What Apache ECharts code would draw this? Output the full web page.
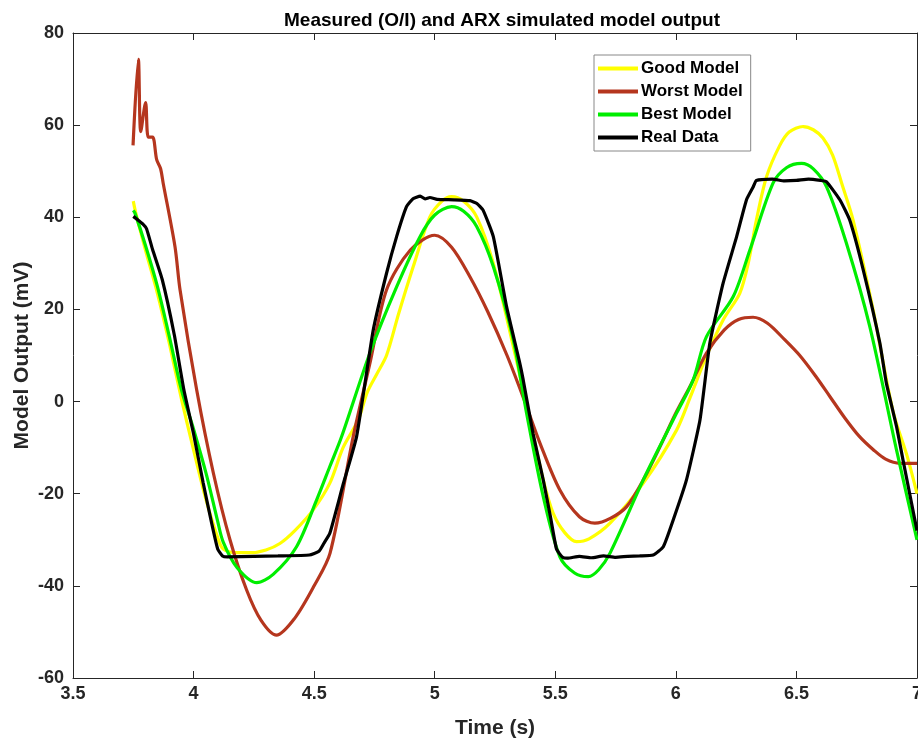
<!DOCTYPE html>
<html>
<head>
<meta charset="utf-8">
<script src="https://cdn.jsdelivr.net/npm/echarts@6/dist/echarts.min.js"></script>
<style>
  html, body { margin: 0; padding: 0; background: #fff; }
  #chart { width: 918px; height: 743px; }
</style>
</head>
<body>
<div id="chart"></div>
<script>
// values
var goodT = [3.75, 3.76, 3.80, 3.85, 3.90, 3.95, 4.00, 4.05, 4.10, 4.123, 4.18, 4.234, 4.30, 4.358, 4.42, 4.496, 4.565, 4.62, 4.683, 4.72, 4.76, 4.80, 4.85, 4.911, 4.98, 5.03, 5.07, 5.12, 5.174, 5.243, 5.326, 5.395, 5.45, 5.491, 5.54, 5.588, 5.64, 5.727, 5.865, 6.003, 6.06, 6.12, 6.196, 6.265, 6.30, 6.334, 6.376, 6.43, 6.47, 6.528, 6.57, 6.61, 6.65, 6.69, 6.735, 6.818, 6.90, 6.96, 7.0];
var goodV = [43.5, 41, 33, 23.5, 12.5, 0.5, -10.5, -21, -29.5, -32, -32.8, -32.8, -32.2, -30.8, -28, -23.5, -17.7, -10, -4, 2, 6, 10, 19, 29.3, 40.1, 43.5, 44.5, 43.5, 40.1, 30, 11.9, -4, -17, -24.2, -28.5, -30.4, -29.8, -26.4, -17.7, -6.2, 1, 9, 17.7, 23.5, 30, 39.4, 48.8, 55.5, 58.5, 59.7, 59, 57.2, 53.5, 47, 39.4, 19.9, -2, -12, -20];

var worstT = [3.749, 3.771, 3.781, 3.801, 3.812, 3.830, 3.847, 3.863, 3.874, 3.923, 3.944, 4.013, 4.082, 4.151, 4.22, 4.28, 4.344, 4.42, 4.50, 4.566, 4.662, 4.73, 4.80, 4.899, 5.0, 5.07, 5.146, 5.22, 5.30, 5.37, 5.44, 5.519, 5.60, 5.664, 5.73, 5.796, 5.87, 5.934, 6.0, 6.058, 6.127, 6.20, 6.26, 6.32, 6.38, 6.45, 6.514, 6.58, 6.64, 6.70, 6.76, 6.82, 6.87, 6.93, 7.0];
var worstV = [55.6, 74.3, 58.6, 64.9, 57.4, 57.4, 52.5, 50.6, 47.4, 33.6, 24.2, 2.5, -15.5, -30, -40.9, -47.5, -50.7, -47, -40, -32.9, -7.6, 8, 24.2, 32.9, 36.1, 33.5, 27.1, 19.5, 10, 0.5, -9.5, -19.2, -25, -26.4, -25.3, -22.8, -16.5, -9.8, -2.5, 3.2, 10.5, 15.5, 17.8, 18.3, 17, 13.5, 10, 5.5, 1, -3.5, -7.5, -10.5, -12.5, -13.4, -13.4];

var bestT = [3.75, 3.757, 3.80, 3.85, 3.90, 3.95, 4.00, 4.054, 4.10, 4.123, 4.18, 4.262, 4.33, 4.427, 4.51, 4.565, 4.614, 4.731, 4.842, 4.939, 5.00, 5.07, 5.12, 5.174, 5.243, 5.326, 5.381, 5.45, 5.519, 5.58, 5.637, 5.68, 5.727, 5.865, 5.975, 6.003, 6.072, 6.127, 6.238, 6.307, 6.403, 6.46, 6.521, 6.57, 6.625, 6.707, 6.804, 6.915, 7.0];
var bestV = [41.5, 40.9, 34, 25, 14, 2.5, -6, -16, -26, -30.5, -36, -39.3, -37.5, -31.5, -21.4, -14.1, -7.6, 10.5, 24.9, 35.8, 40.5, 42.3, 41.3, 38, 29.3, 13.4, -2.5, -20.6, -33.7, -37.2, -38, -36.5, -32.9, -17, -5.4, -2.5, 4.7, 14.1, 22.8, 32.9, 47.4, 50.8, 51.7, 50.5, 46.6, 34.4, 16.3, -10.5, -30];

var realT = [3.75, 3.76, 3.79, 3.805, 3.83, 3.87, 3.92, 3.96, 4.00, 4.04, 4.075, 4.10, 4.12, 4.14, 4.25, 4.35, 4.48, 4.52, 4.54, 4.565, 4.62, 4.676, 4.745, 4.80, 4.842, 4.883, 4.91, 4.94, 4.96, 4.98, 5.01, 5.08, 5.146, 5.175, 5.20, 5.243, 5.298, 5.353, 5.367, 5.408, 5.45, 5.48, 5.505, 5.53, 5.55, 5.60, 5.65, 5.70, 5.75, 5.80, 5.85, 5.906, 5.948, 5.989, 6.044, 6.10, 6.141, 6.196, 6.252, 6.293, 6.32, 6.334, 6.40, 6.45, 6.50, 6.55, 6.60, 6.625, 6.68, 6.721, 6.777, 6.846, 6.873, 6.915, 6.942, 7.0];
var realV = [40.2, 39.8, 38.5, 37.5, 33, 26.5, 14.5, 2.5, -7, -17.7, -26.4, -32, -33.5, -33.7, -33.6, -33.5, -33.3, -32.5, -30.8, -28.6, -18, -7.6, 15.5, 27.8, 35.8, 42.3, 44.0, 44.6, 44.0, 44.3, 43.9, 43.8, 43.6, 43, 41.6, 35.8, 20.6, 8.3, 4.7, -7, -17, -25, -32, -33.8, -34.0, -33.6, -33.9, -33.5, -33.8, -33.6, -33.5, -33.3, -31.5, -25.7, -17, -4.0, 12.7, 25.7, 35.8, 43.8, 46.5, 48, 48.3, 47.9, 48.0, 48.3, 48.0, 47.7, 43.8, 39.4, 28.6, 12.7, 4.0, -5.4, -12.7, -28];

var xTicks = [3.5, 4, 4.5, 5, 5.5, 6, 6.5, 7];
var yTicks = [-60, -40, -20, 0, 20, 40, 60, 80];

function pairs(t, v) {
  var out = [];
  for (var i = 0; i < t.length; i++) out.push([t[i], v[i]]);
  return out;
}

var axisColor = '#262626';
var font = 'Arial, "Liberation Sans", Helvetica, sans-serif';

var myChart = echarts.init(document.getElementById('chart'), null, { renderer: 'canvas' });

function line(name, t, v, color, smooth) {
  return {
    name: name,
    type: 'line',
    data: pairs(t, v),
    showSymbol: false,
    symbol: 'none',
    smooth: smooth,
    animation: false,
    lineStyle: { width: 3.2, color: color },
    itemStyle: { color: color },
    xAxisIndex: 0,
    yAxisIndex: 0
  };
}

myChart.setOption({
  backgroundColor: '#FFFFFF',
  animation: false,
  title: {
    text: 'Measured (O/I) and ARX simulated model output',
    left: 497,
    top: 6,
    textAlign: 'center',
    textStyle: { fontFamily: font, fontWeight: 'bold', fontSize: 19, color: '#000' }
  },
  grid: { left: 73, right: 1, top: 33, bottom: 65, containLabel: false, outerBoundsMode: 'none' },
  legend: {
    orient: 'vertical',
    left: 594,
    top: 55,
    backgroundColor: '#fff',
    borderColor: '#888',
    borderWidth: 1,
    padding: [5, 8, 5, 4],
    itemGap: 6,
    itemWidth: 40,
    itemHeight: 4,
    icon: 'rect',
    textStyle: { fontFamily: font, fontWeight: 'bold', fontSize: 17, color: '#000', padding: [0, 0, 0, -2] },
    data: ['Good Model', 'Worst Model', 'Best Model', 'Real Data']
  },
  xAxis: [{
    type: 'value',
    min: 3.5,
    max: 7,
    interval: 0.5,
    name: 'Time (s)',
    nameLocation: 'middle',
    nameGap: 40,
    nameMoveOverlap: false,
    nameTextStyle: { fontFamily: font, fontWeight: 'bold', fontSize: 21, color: axisColor },
    axisLine: { show: true, onZero: false, lineStyle: { color: axisColor, width: 1 } },
    axisTick: { show: true, inside: true, length: 7, lineStyle: { color: axisColor } },
    axisLabel: { fontFamily: font, fontWeight: 'bold', fontSize: 18, color: axisColor, margin: 7,
      customValues: xTicks },
    splitLine: { show: false }
  }, {
    type: 'value',
    position: 'top',
    min: 3.5,
    max: 7,
    interval: 0.5,
    axisLine: { show: true, onZero: false, lineStyle: { color: axisColor, width: 1 } },
    axisTick: { show: true, inside: true, length: 7, lineStyle: { color: axisColor } },
    axisLabel: { show: false },
    splitLine: { show: false }
  }],
  yAxis: [{
    type: 'value',
    min: -60,
    max: 80,
    interval: 20,
    name: 'Model Output (mV)',
    nameLocation: 'middle',
    nameGap: 40,
    nameMoveOverlap: false,
    nameTextStyle: { fontFamily: font, fontWeight: 'bold', fontSize: 21, color: axisColor },
    axisLine: { show: true, onZero: false, lineStyle: { color: axisColor, width: 1 } },
    axisTick: { show: true, inside: true, length: 7, lineStyle: { color: axisColor } },
    axisLabel: { fontFamily: font, fontWeight: 'bold', fontSize: 18, color: axisColor, margin: 9,
      customValues: yTicks },
    splitLine: { show: false }
  }, {
    type: 'value',
    position: 'right',
    min: -60,
    max: 80,
    interval: 20,
    axisLine: { show: true, onZero: false, lineStyle: { color: axisColor, width: 1 } },
    axisTick: { show: true, inside: true, length: 7, lineStyle: { color: axisColor } },
    axisLabel: { show: false },
    splitLine: { show: false }
  }],
  series: [
    line('Good Model', goodT, goodV, '#FFFF00', 0.3),
    line('Worst Model', worstT, worstV, '#B5361E', 0.3),
    line('Best Model', bestT, bestV, '#00EE00', 0.3),
    line('Real Data', realT, realV, '#000000', 0.15)
  ]
});
</script>
</body>
</html>
